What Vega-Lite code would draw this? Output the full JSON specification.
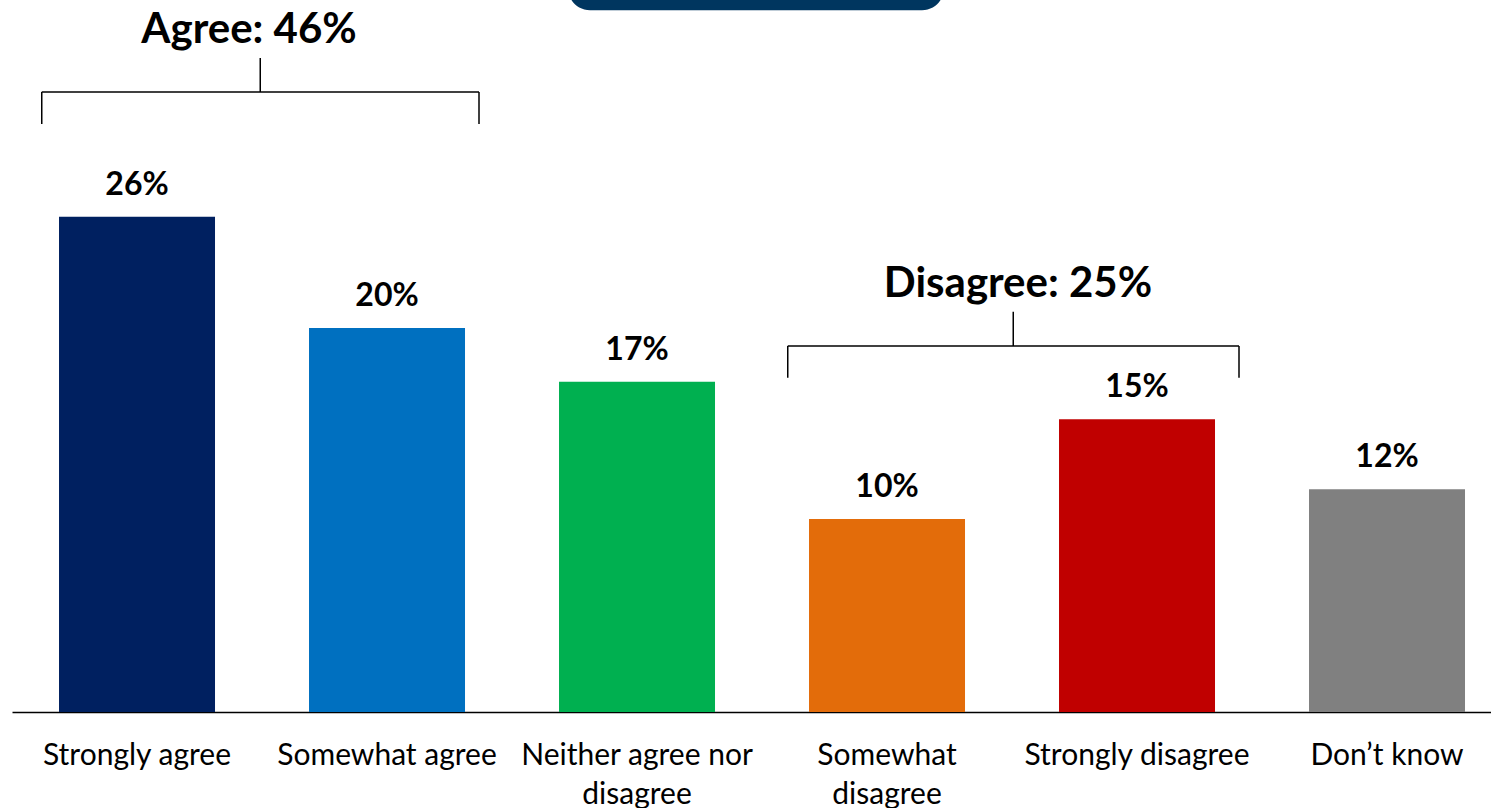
{
  "$schema": "https://vega.github.io/schema/vega-lite/v6.json",
  "width": 1479,
  "height": 712,
  "autosize": {"type": "none"},
  "padding": {"left": 12, "top": 0, "right": 0, "bottom": 96},
  "background": "white",
  "config": {"view": {"stroke": null}, "font": "Lato"},
  "datasets": {
    "responses": [
      {"response": "Strongly agree", "pct": 25.8, "label": "26%"},
      {"response": "Somewhat agree", "pct": 20.0, "label": "20%"},
      {"response": "Neither agree nor disagree", "pct": 17.2, "label": "17%"},
      {"response": "Somewhat disagree", "pct": 10.05, "label": "10%"},
      {"response": "Strongly disagree", "pct": 15.25, "label": "15%"},
      {"response": "Don’t know", "pct": 11.6, "label": "12%"}
    ],
    "groups": [
      {"group": "Agree: 46%", "start": -0.381, "end": 1.368, "mid": 0.493, "textX": 0.448, "level": 32.29, "drop": 30.63, "rise": 34.06, "textY": 34.84},
      {"group": "Disagree: 25%", "start": 2.603, "end": 4.408, "mid": 3.505, "textX": 3.524, "level": 19.06, "drop": 17.41, "rise": 20.85, "textY": 21.63}
    ],
    "banner": [
      {"left": 1.724, "right": 3.228, "bottom": 36.55, "top": 39.5}
    ]
  },
  "layer": [
    {
      "data": {"name": "responses"},
      "encoding": {
        "x": {
          "field": "response",
          "type": "nominal",
          "sort": null,
          "scale": {"paddingInner": 0.376, "paddingOuter": 0.146, "align": 0.644},
          "axis": {
            "title": null,
            "ticks": false,
            "tickSize": 0,
            "labelAngle": 0,
            "labelFont": "Lato",
            "labelFontSize": 30,
            "labelColor": "#000000",
            "labelPadding": 28,
            "labelBaseline": "top",
            "labelLineHeight": 39,
            "labelLimit": 0,
            "domainColor": "#000000",
            "domainWidth": 1.5,
            "grid": false,
            "labelExpr": "datum.value == 'Neither agree nor disagree' ? ['Neither agree nor', 'disagree'] : datum.value == 'Somewhat disagree' ? ['Somewhat', 'disagree'] : datum.value"
          }
        },
        "y": {
          "field": "pct",
          "type": "quantitative",
          "scale": {"domain": [0, 37.083], "nice": false, "zero": true},
          "axis": null
        }
      },
      "layer": [
        {
          "mark": {"type": "bar"},
          "encoding": {
            "color": {
              "field": "response",
              "type": "nominal",
              "scale": {
                "domain": ["Strongly agree", "Somewhat agree", "Neither agree nor disagree", "Somewhat disagree", "Strongly disagree", "Don’t know"],
                "range": ["#002060", "#0070C0", "#00B050", "#E36C0A", "#C00000", "#808080"]
              },
              "legend": null
            }
          }
        },
        {
          "mark": {"type": "text", "fontSize": 32, "fontWeight": "bold", "baseline": "alphabetic", "align": "center", "dy": -22, "color": "#000000"},
          "encoding": {"text": {"field": "label"}}
        }
      ]
    },
    {
      "layer": [
        {
          "data": {"name": "groups"},
          "mark": {"type": "rule", "color": "#000000", "strokeWidth": 1.5},
          "encoding": {
            "x": {"field": "start", "type": "quantitative", "scale": {"domain": [-0.5, 5.416], "nice": false, "zero": false}, "axis": null},
            "x2": {"field": "end"},
            "y": {"field": "level", "type": "quantitative", "scale": {"domain": [0, 37.083], "nice": false}, "axis": null}
          }
        },
        {
          "data": {"name": "groups"},
          "mark": {"type": "rule", "color": "#000000", "strokeWidth": 1.5},
          "encoding": {
            "x": {"field": "start", "type": "quantitative", "scale": {"domain": [-0.5, 5.416], "nice": false, "zero": false}, "axis": null},
            "y": {"field": "level", "type": "quantitative", "scale": {"domain": [0, 37.083], "nice": false}, "axis": null},
            "y2": {"field": "drop"}
          }
        },
        {
          "data": {"name": "groups"},
          "mark": {"type": "rule", "color": "#000000", "strokeWidth": 1.5},
          "encoding": {
            "x": {"field": "end", "type": "quantitative", "scale": {"domain": [-0.5, 5.416], "nice": false, "zero": false}, "axis": null},
            "y": {"field": "level", "type": "quantitative", "scale": {"domain": [0, 37.083], "nice": false}, "axis": null},
            "y2": {"field": "drop"}
          }
        },
        {
          "data": {"name": "groups"},
          "mark": {"type": "rule", "color": "#000000", "strokeWidth": 1.5},
          "encoding": {
            "x": {"field": "mid", "type": "quantitative", "scale": {"domain": [-0.5, 5.416], "nice": false, "zero": false}, "axis": null},
            "y": {"field": "level", "type": "quantitative", "scale": {"domain": [0, 37.083], "nice": false}, "axis": null},
            "y2": {"field": "rise"}
          }
        },
        {
          "data": {"name": "groups"},
          "mark": {"type": "text", "fontSize": 42, "fontWeight": "bold", "baseline": "alphabetic", "align": "center", "color": "#000000"},
          "encoding": {
            "x": {"field": "textX", "type": "quantitative", "scale": {"domain": [-0.5, 5.416], "nice": false, "zero": false}, "axis": null},
            "y": {"field": "textY", "type": "quantitative", "scale": {"domain": [0, 37.083], "nice": false}, "axis": null},
            "text": {"field": "group"}
          }
        },
        {
          "data": {"name": "banner"},
          "mark": {"type": "rect", "color": "#00365F", "cornerRadius": 22},
          "encoding": {
            "x": {"field": "left", "type": "quantitative", "scale": {"domain": [-0.5, 5.416], "nice": false, "zero": false}, "axis": null},
            "x2": {"field": "right"},
            "y": {"field": "bottom", "type": "quantitative", "scale": {"domain": [0, 37.083], "nice": false}, "axis": null},
            "y2": {"field": "top"}
          }
        }
      ]
    }
  ],
  "resolve": {"scale": {"x": "independent"}}
}
